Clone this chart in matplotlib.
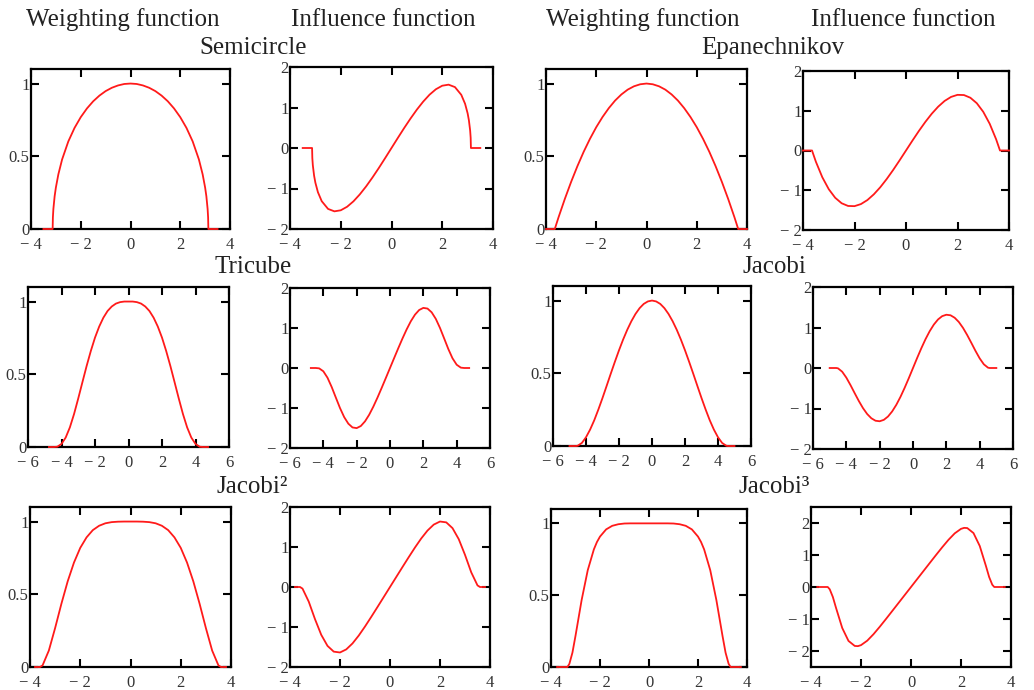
"""Weighting and influence functions of six kernels, in a 3 x 4 grid."""

import matplotlib

matplotlib.use("Agg")
import matplotlib.pyplot as plt  # noqa:E402

plt.rcParams["font.family"] = ["Liberation Serif", "DejaVu Serif"]

OUTPUT_FIG = "out.png"

# ---- data --------------------------------------------------------------------
SEMI_X = [-3.5, -3.13, -3.12, -3.1, -3.05, -3.0, -2.9, -2.75, -2.5, -2.25,
          -2.0, -1.75, -1.5, -1.25, -1.0, -0.75, -0.5, -0.25, 0.0,
          0.25, 0.5, 0.75, 1.0, 1.25, 1.5, 1.75, 2.0, 2.25, 2.5,
          2.75, 2.9, 3.0, 3.05, 3.1, 3.12, 3.13, 3.5]
SEMI_W = [0, 0, 0.080, 0.138, 0.225, 0.285, 0.376, 0.478, 0.602, 0.695,
          0.769, 0.829, 0.878, 0.917, 0.948, 0.971, 0.987, 0.997, 1.0,
          0.997, 0.987, 0.971, 0.948, 0.917, 0.878, 0.829, 0.769, 0.695, 0.602,
          0.478, 0.376, 0.285, 0.225, 0.138, 0.080, 0, 0]
SEMI_PSI = [0, 0, -0.250, -0.428, -0.685, -0.856, -1.091, -1.313, -1.504, -1.564,
            -1.538, -1.451, -1.317, -1.146, -0.948, -0.728, -0.494, -0.249, 0.0,
            0.249, 0.494, 0.728, 0.948, 1.146, 1.317, 1.451, 1.538, 1.564, 1.504,
            1.313, 1.091, 0.856, 0.685, 0.428, 0.250, 0, 0]

EPAN_X = [-4.0, -3.65, -3.5, -3.25, -3.0, -2.75, -2.5, -2.25, -2.0, -1.75,
          -1.5, -1.25, -1.0, -0.75, -0.5, -0.25, 0.0,
          0.25, 0.5, 0.75, 1.0, 1.25, 1.5, 1.75, 2.0, 2.25,
          2.5, 2.75, 3.0, 3.25, 3.5, 3.65, 4.0]
EPAN_W = [0, 0, 0.081, 0.207, 0.324, 0.432, 0.531, 0.620, 0.700, 0.770,
          0.831, 0.883, 0.925, 0.958, 0.981, 0.995, 1.0,
          0.995, 0.981, 0.958, 0.925, 0.883, 0.831, 0.770, 0.700, 0.620,
          0.531, 0.432, 0.324, 0.207, 0.081, 0, 0]
EPAN_PSI = [0, 0, -0.282, -0.673, -0.973, -1.189, -1.327, -1.395, -1.400, -1.348,
            -1.247, -1.103, -0.925, -0.718, -0.491, -0.249, 0.0,
            0.249, 0.491, 0.718, 0.925, 1.103, 1.247, 1.348, 1.400, 1.395,
            1.327, 1.189, 0.973, 0.673, 0.282, 0, 0]

TRI_X = [-4.75, -4.45, -4.25, -4.0, -3.75, -3.5, -3.25, -3.0, -2.75, -2.5,
         -2.25, -2.0, -1.75, -1.5, -1.25, -1.0, -0.75, -0.5, -0.25, 0.0,
         0.25, 0.5, 0.75, 1.0, 1.25, 1.5, 1.75, 2.0, 2.25,
         2.5, 2.75, 3.0, 3.25, 3.5, 3.75, 4.0, 4.25, 4.45, 4.75]
TRI_W = [0, 0, 0.002, 0.021, 0.065, 0.135, 0.227, 0.334, 0.446, 0.557,
         0.660, 0.752, 0.828, 0.889, 0.935, 0.966, 0.986, 0.996, 1.0, 1.0,
         1.0, 0.996, 0.986, 0.966, 0.935, 0.889, 0.828, 0.752, 0.660,
         0.557, 0.446, 0.334, 0.227, 0.135, 0.065, 0.021, 0.002, 0, 0]
TRI_PSI = [0, 0, -0.009, -0.082, -0.243, -0.474, -0.739, -1.001, -1.227, -1.392,
           -1.486, -1.503, -1.450, -1.334, -1.169, -0.966, -0.739, -0.498, -0.250, 0.0,
           0.250, 0.498, 0.739, 0.966, 1.169, 1.334, 1.450, 1.503, 1.486,
           1.392, 1.227, 1.001, 0.739, 0.474, 0.243, 0.082, 0.009, 0, 0]

JAC_X = [-5.0, -4.6, -4.5, -4.25, -4.0, -3.75, -3.5, -3.25, -3.0, -2.75,
         -2.5, -2.25, -2.0, -1.75, -1.5, -1.25, -1.0, -0.75, -0.5, -0.25, 0.0,
         0.25, 0.5, 0.75, 1.0, 1.25, 1.5, 1.75, 2.0, 2.25, 2.5,
         2.75, 3.0, 3.25, 3.5, 3.75, 4.0, 4.25, 4.5, 4.6, 5.0]
JAC_W = [0, 0, 0.002, 0.021, 0.060, 0.113, 0.177, 0.251, 0.330, 0.413,
         0.497, 0.579, 0.658, 0.732, 0.799, 0.858, 0.908, 0.948, 0.977, 0.994, 1.0,
         0.994, 0.977, 0.948, 0.908, 0.858, 0.799, 0.732, 0.658, 0.579, 0.497,
         0.413, 0.330, 0.251, 0.177, 0.113, 0.060, 0.021, 0.002, 0, 0]
JAC_PSI = [0, 0, -0.008, -0.091, -0.238, -0.422, -0.621, -0.815, -0.991, -1.136,
           -1.241, -1.302, -1.315, -1.280, -1.198, -1.072, -0.908, -0.711, -0.488, -0.249, 0.0,
           0.249, 0.488, 0.711, 0.908, 1.072, 1.198, 1.280, 1.315, 1.302, 1.241,
           1.136, 0.991, 0.815, 0.621, 0.422, 0.238, 0.091, 0.008, 0, 0]

JAC2_X = [-3.8, -3.6, -3.5, -3.25, -3.0, -2.75, -2.5, -2.25, -2.0, -1.75,
          -1.5, -1.25, -1.0, -0.75, -0.5, -0.25, 0.0,
          0.25, 0.5, 0.75, 1.0, 1.25, 1.5, 1.75, 2.0, 2.25,
          2.5, 2.75, 3.0, 3.25, 3.5, 3.6, 3.8]
JAC2_W = [0, 0, 0.011, 0.113, 0.268, 0.435, 0.589, 0.718, 0.819, 0.891,
          0.941, 0.971, 0.988, 0.996, 0.999, 1.0, 1.0,
          1.0, 0.999, 0.996, 0.988, 0.971, 0.941, 0.891, 0.819, 0.718,
          0.589, 0.435, 0.268, 0.113, 0.011, 0, 0]
JAC2_PSI = [0, 0, -0.040, -0.366, -0.804, -1.196, -1.472, -1.616, -1.637, -1.560,
            -1.411, -1.214, -0.988, -0.747, -0.500, -0.250, 0.0,
            0.250, 0.500, 0.747, 0.988, 1.214, 1.411, 1.560, 1.637, 1.616,
            1.472, 1.196, 0.804, 0.366, 0.040, 0, 0]

JAC3_X = [-3.75, -3.33, -3.25, -3.125, -3.0, -2.75, -2.5, -2.25, -2.125, -2.0,
          -1.75, -1.5, -1.25, -1.0, -0.75, -0.5, -0.25, 0.0,
          0.25, 0.5, 0.75, 1.0, 1.25, 1.5, 1.75, 2.0,
          2.125, 2.25, 2.5, 2.75, 3.0, 3.125, 3.25, 3.33, 3.75]
JAC3_W = [0, 0, 0.022, 0.100, 0.217, 0.466, 0.674, 0.819, 0.870, 0.908,
          0.958, 0.983, 0.994, 0.999, 1.0, 1.0, 1.0, 1.0,
          1.0, 1.0, 1.0, 0.999, 0.994, 0.983, 0.958, 0.908,
          0.870, 0.819, 0.674, 0.466, 0.217, 0.100, 0.022, 0, 0]
JAC3_PSI = [0, 0, -0.072, -0.314, -0.650, -1.282, -1.685, -1.842, -1.848, -1.817,
            -1.677, -1.475, -1.243, -0.999, -0.750, -0.500, -0.250, 0.0,
            0.250, 0.500, 0.750, 0.999, 1.243, 1.475, 1.677, 1.817,
            1.848, 1.842, 1.685, 1.282, 0.650, 0.314, 0.072, 0, 0]

KERNEL_NAMES = ["Semicircle", "Epanechnikov", "Tricube",
                "Jacobi", "Jacobi\u00b2", "Jacobi\u00b3"]
HEADERS = ["Weighting function", "Influence function"]

X4_TICKS = [-4, -2, 0, 2, 4]
X6_TICKS = [-6, -4, -2, 0, 2, 4, 6]
W_TICKS = [0, 0.5, 1]
PSI_TICKS = [-2, -1, 0, 1, 2]

# (name, x, weight, influence, x ticks, influence y limit)
KERNELS = [
    (KERNEL_NAMES[0], SEMI_X, SEMI_W, SEMI_PSI, X4_TICKS, 2),
    (KERNEL_NAMES[1], EPAN_X, EPAN_W, EPAN_PSI, X4_TICKS, 2),
    (KERNEL_NAMES[2], TRI_X, TRI_W, TRI_PSI, X6_TICKS, 2),
    (KERNEL_NAMES[3], JAC_X, JAC_W, JAC_PSI, X6_TICKS, 2),
    (KERNEL_NAMES[4], JAC2_X, JAC2_W, JAC2_PSI, X4_TICKS, 2),
    (KERNEL_NAMES[5], JAC3_X, JAC3_W, JAC3_PSI, X4_TICKS, 2.5),
]

# ---- layout (pixels in a 1034 x 690 image): left, right, top, bottom ---------
W_PX, H_PX = 1034, 690
BOXES = [
    [(31, 230, 69, 229), (290, 493, 67, 229)],
    [(546, 747, 69, 229), (803, 1009, 71, 230)],
    [(28, 229, 287, 447), (290, 490, 288, 448)],
    [(553, 751, 286, 446), (813, 1013, 287, 449)],
    [(30, 231, 507, 667), (290, 490, 507, 667)],
    [(551, 747, 509, 667), (811, 1011, 507, 667)],
]
TITLE_POS = [(253, 48), (773, 48), (253, 267), (774, 267), (252, 487), (774, 487)]
HEADER_X = [123, 383, 643, 903]

RED = "#ff1a1a"
TEXT = "#222222"


def fmt(v):
    s = f"{abs(v):g}"
    return "\u2212 " + s if v < 0 else s


def make_axes(fig, box):
    left, right, top, bottom = box
    return fig.add_axes([left / W_PX, 1 - bottom / H_PX,
                         (right - left) / W_PX, (bottom - top) / H_PX])


def style_axes(ax, xticks, yticks, ylim):
    ax.set_xlim(xticks[0], xticks[-1])
    ax.set_ylim(*ylim)
    ax.set_xticks(xticks)
    ax.set_xticklabels([fmt(v) for v in xticks])
    ax.set_yticks(yticks)
    ax.set_yticklabels([fmt(v) for v in yticks])
    ax.tick_params(direction="in", top=True, right=True, length=6, width=1.5,
                   labelsize=12, labelcolor="#333333")
    ax.tick_params(axis="x", pad=6)
    ax.tick_params(axis="y", pad=1)
    for spine in ax.spines.values():
        spine.set_linewidth(1.6)


fig = plt.figure(figsize=(W_PX / 100, H_PX / 100), dpi=100)

for k, (name, xs, ws, psis, xticks, plim) in enumerate(KERNELS):
    box_w, box_p = BOXES[k]

    ax = make_axes(fig, box_w)
    ax.plot(xs, ws, color=RED, lw=1.3, clip_on=False, zorder=3)
    style_axes(ax, xticks, W_TICKS, (0, 1.1))

    ax = make_axes(fig, box_p)
    ax.plot(xs, psis, color=RED, lw=1.3, clip_on=False, zorder=3)
    style_axes(ax, xticks, PSI_TICKS, (-plim, plim))

    tx, ty = TITLE_POS[k]
    fig.text(tx / W_PX, 1 - ty / H_PX, name, ha="center", va="center",
             fontsize=18, color=TEXT)

for i, hx in enumerate(HEADER_X):
    fig.text(hx / W_PX, 1 - 20 / H_PX, HEADERS[i % 2], ha="center",
             va="center", fontsize=18, color=TEXT)

fig.savefig(OUTPUT_FIG, dpi=100)
